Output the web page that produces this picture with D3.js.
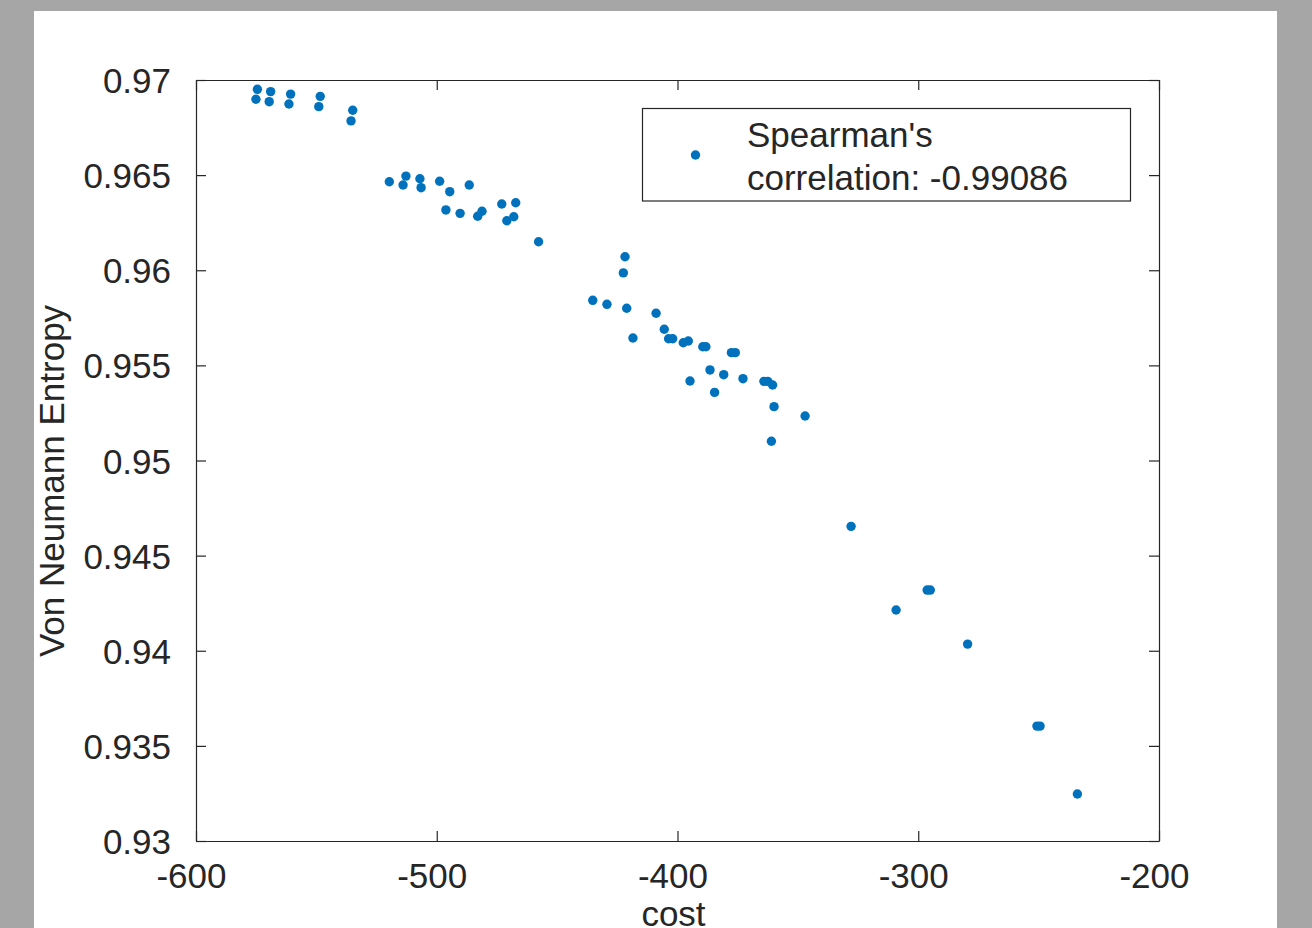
<!DOCTYPE html>
<html>
<head>
<meta charset="utf-8">
<script src="https://cdn.jsdelivr.net/npm/d3@7"></script>
<style>
  html, body { margin: 0; padding: 0; background: #a6a6a6; }
  svg { display: block; }
  text { font-family: "Liberation Sans", Arial, Helvetica, sans-serif; fill: #262626; }
</style>
</head>
<body>
<script>
// ---- data ----
const cost = [-574.5,-575.1,-569.0,-569.6,-560.7,-561.4,-548.4,-549.0,-534.9,-535.6,
  -519.7,-512.8,-514.0,-507.0,-506.5,-498.8,-494.6,-486.5,-496.2,-490.3,
  -483.0,-481.2,-473.0,-467.2,-470.9,-468.0,-457.7,-421.8,-422.5,-435.2,
  -429.3,-421.1,-408.9,-418.5,-405.5,-403.7,-402.0,-397.6,-395.5,-389.5,
  -388.2,-377.6,-376.0,-386.5,-380.8,-394.8,-372.8,-364.1,-362.5,-360.5,
  -384.6,-359.9,-347.0,-361.0,-327.9,-309.2,-296.3,-295.0,-279.5,-250.7,
  -249.4,-233.9];
const entropy = [0.96951,0.96899,0.96939,0.96886,0.96926,0.96874,0.96914,0.96860,0.96841,0.96785,
  0.96465,0.96495,0.96448,0.96481,0.96434,0.96468,0.96413,0.96448,0.96317,0.96299,
  0.96284,0.96310,0.96348,0.96355,0.96260,0.96281,0.96150,0.96071,0.95986,0.95842,
  0.95821,0.95800,0.95774,0.95644,0.95690,0.95640,0.95640,0.95619,0.95628,0.95598,
  0.95598,0.95567,0.95567,0.95476,0.95451,0.95418,0.95430,0.95416,0.95416,0.95397,
  0.95358,0.95283,0.95234,0.95101,0.94654,0.94214,0.94319,0.94319,0.94035,0.93604,
  0.93604,0.93247];
const xTicks = [-600,-500,-400,-300,-200];
const xTickLabels = ["-600","-500","-400","-300","-200"];
const yTicks = [0.93,0.935,0.94,0.945,0.95,0.955,0.96,0.965,0.97];
const yTickLabels = ["0.93","0.935","0.94","0.945","0.95","0.955","0.96","0.965","0.97"];
const xLabel = "cost";
const yLabel = "Von Neumann Entropy";
const legendLines = ["Spearman's", "correlation: -0.99086"];

const points = cost.map((c, i) => ({ x: c, y: entropy[i] }));

// ---- layout ----
const W = 1312, H = 928;
const L = 196, R = 1159, T = 80, B = 841;
const dotColor = "#0072BD";
const axisColor = "#262626";
const fs = 35;

const svg = d3.select("body").append("svg").attr("width", W).attr("height", H);
svg.append("rect").attr("x", 0).attr("y", 0).attr("width", W).attr("height", H).attr("fill", "#a6a6a6");
svg.append("rect").attr("x", 34).attr("y", 11).attr("width", 1243).attr("height", H - 11).attr("fill", "#ffffff");

const x = d3.scaleLinear().domain([-600, -200]).range([L, R]);
const y = d3.scaleLinear().domain([0.93, 0.97]).range([B, T]);

// bottom axis
const gx = svg.append("g").attr("transform", `translate(0,${B})`)
  .call(d3.axisBottom(x).tickValues(xTicks).tickSizeInner(-10).tickSizeOuter(0)
    .tickFormat((d, i) => xTickLabels[i]));
gx.selectAll("text").attr("y", 47).attr("x", -5).attr("dy", null).style("font-size", fs + "px").attr("fill", axisColor);

// left axis
const gy = svg.append("g").attr("transform", `translate(${L},0)`)
  .call(d3.axisLeft(y).tickValues(yTicks).tickSizeInner(-10).tickSizeOuter(0)
    .tickFormat((d, i) => yTickLabels[i]));
gy.selectAll("text").attr("x", -25).attr("dy", "0.36em").style("font-size", fs + "px").attr("fill", axisColor);

// top axis (ticks only)
const gt = svg.append("g").attr("transform", `translate(0,${T})`)
  .call(d3.axisTop(x).tickValues(xTicks).tickSizeInner(-10).tickSizeOuter(0).tickFormat(""));
// right axis (ticks only)
const gr = svg.append("g").attr("transform", `translate(${R},0)`)
  .call(d3.axisRight(y).tickValues(yTicks).tickSizeInner(-10).tickSizeOuter(0).tickFormat(""));

[gx, gy, gt, gr].forEach(g => {
  g.select(".domain").attr("stroke", axisColor).attr("stroke-width", 1.2);
  g.selectAll(".tick line").attr("stroke", axisColor).attr("stroke-width", 1.2);
});

// axis labels (the reference places "cost" right at the bottom edge of the figure)
svg.append("text").attr("x", (L + R) / 2 - 4).attr("y", 926).attr("text-anchor", "middle")
  .style("font-size", fs + "px").text(xLabel);
svg.append("text").attr("transform", `translate(64,481) rotate(-90)`).attr("text-anchor", "middle")
  .style("font-size", fs + "px").text(yLabel);

// points
svg.append("g").selectAll("circle").data(points).join("circle")
  .attr("cx", d => x(d.x)).attr("cy", d => y(d.y)).attr("r", 4.7).attr("fill", dotColor);

// legend
const lg = svg.append("g");
lg.append("rect").attr("x", 642.5).attr("y", 108.5).attr("width", 488).attr("height", 92.5)
  .attr("fill", "#ffffff").attr("stroke", axisColor).attr("stroke-width", 1.2);
lg.append("circle").attr("cx", 695.5).attr("cy", 155).attr("r", 4.7).attr("fill", dotColor);
lg.selectAll("text.leg").data(legendLines).join("text").attr("class", "leg")
  .attr("x", 747).attr("y", (d, i) => 146.5 + i * 43.5)
  .style("font-size", fs + "px").attr("fill", "#000000").text(d => d);
</script>
</body>
</html>
